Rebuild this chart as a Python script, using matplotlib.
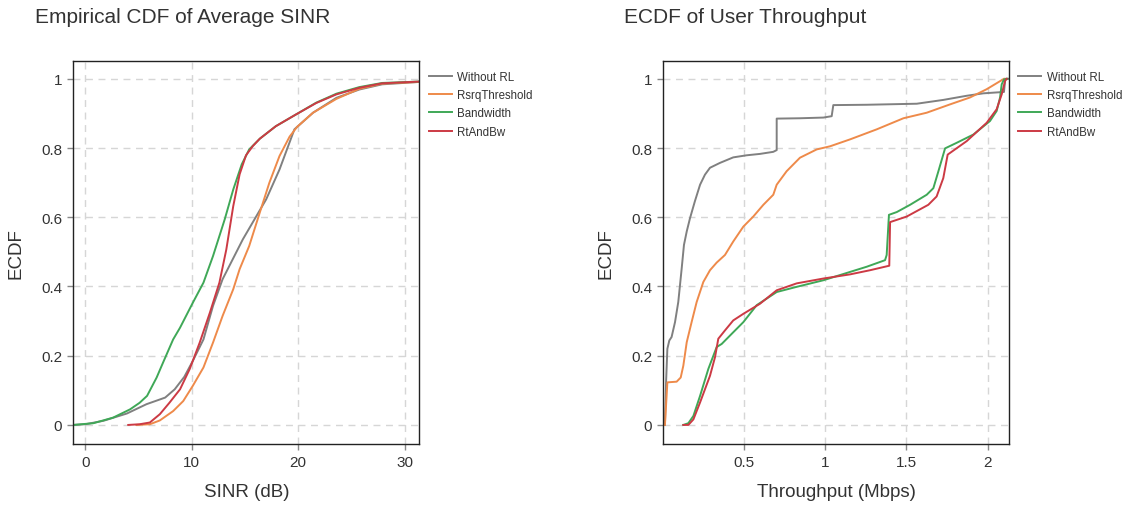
import matplotlib
matplotlib.use("Agg")
import matplotlib.pyplot as plt

plt.rcParams['font.family'] = ['Liberation Sans', 'DejaVu Sans']

series_names = ["Without RL", "RsrqThreshold", "Bandwidth", "RtAndBw"]
series_colors = ["#808080", "#ee8a4a", "#3fa857", "#cc3a44"]

# ---- Average SINR (dB) ECDF ----
sinr_without_x = [-1.13, 0.0, 1.7, 3.9, 5.75, 7.5, 8.4, 9.3, 10.1, 11.1, 12.0, 12.9, 14.8, 17.0, 18.25, 19.65, 21.4, 23.6, 25.75, 27.9, 31.4]
sinr_without_y = [0.0, 0.002, 0.012, 0.033, 0.06, 0.079, 0.103, 0.139, 0.185, 0.247, 0.344, 0.421, 0.536, 0.652, 0.738, 0.854, 0.902, 0.945, 0.969, 0.984, 0.991]

sinr_rsrq_x = [4.8, 6.06, 7.0, 8.25, 9.2, 10.1, 11.1, 12.0, 12.9, 13.9, 14.5, 15.4, 16.4, 17.3, 18.25, 19.2, 19.9, 21.4, 23.6, 25.75, 27.9, 31.4]
sinr_rsrq_y = [0.0, 0.002, 0.013, 0.04, 0.069, 0.113, 0.166, 0.238, 0.315, 0.392, 0.45, 0.517, 0.614, 0.7, 0.777, 0.833, 0.861, 0.902, 0.942, 0.971, 0.986, 0.991]

sinr_bw_x = [-1.13, 0.75, 2.6, 4.2, 5.1, 5.8, 6.7, 7.3, 8.25, 8.9, 10.1, 11.1, 12.0, 13.1, 13.9, 14.7, 15.4, 16.4, 17.9, 19.8, 21.7, 23.6, 25.75, 27.9, 31.4]
sinr_bw_y = [0.0, 0.005, 0.021, 0.045, 0.064, 0.084, 0.137, 0.18, 0.247, 0.281, 0.353, 0.411, 0.488, 0.594, 0.68, 0.753, 0.796, 0.827, 0.863, 0.897, 0.931, 0.957, 0.976, 0.988, 0.992]

sinr_rtbw_x = [4.03, 5.1, 6.06, 7.0, 7.9, 8.9, 9.8, 10.75, 11.7, 12.6, 13.25, 13.9, 14.5, 15.1, 15.75, 16.4, 17.9, 19.8, 21.7, 23.6, 25.75, 27.9, 31.4]
sinr_rtbw_y = [0.0, 0.002, 0.007, 0.031, 0.064, 0.103, 0.161, 0.238, 0.324, 0.411, 0.507, 0.632, 0.724, 0.779, 0.806, 0.827, 0.863, 0.897, 0.93, 0.955, 0.974, 0.987, 0.992]

# ---- User throughput (Mbps) ECDF ----
tput_without_x = [0.016, 0.023, 0.031, 0.043, 0.057, 0.078, 0.098, 0.119, 0.133, 0.15, 0.17, 0.2, 0.232, 0.262, 0.293, 0.354, 0.436, 0.518, 0.6, 0.682, 0.703, 0.703, 0.846, 0.99, 1.041, 1.051, 1.256, 1.564, 1.727, 1.871, 1.973, 2.1, 2.108, 2.13]
tput_without_y = [0.0, 0.123, 0.22, 0.244, 0.254, 0.297, 0.355, 0.452, 0.52, 0.559, 0.597, 0.646, 0.694, 0.723, 0.743, 0.757, 0.773, 0.779, 0.783, 0.789, 0.794, 0.885, 0.886, 0.888, 0.892, 0.924, 0.925, 0.928, 0.939, 0.951, 0.958, 0.962, 1.0, 1.0]

tput_rsrq_x = [0.016, 0.031, 0.088, 0.113, 0.129, 0.15, 0.18, 0.211, 0.252, 0.293, 0.334, 0.385, 0.436, 0.498, 0.559, 0.621, 0.682, 0.703, 0.764, 0.846, 0.949, 1.031, 1.154, 1.318, 1.482, 1.625, 1.768, 1.891, 1.994, 2.1]
tput_rsrq_y = [0.0, 0.123, 0.125, 0.137, 0.171, 0.239, 0.297, 0.355, 0.413, 0.447, 0.469, 0.491, 0.53, 0.573, 0.602, 0.636, 0.665, 0.694, 0.733, 0.772, 0.796, 0.805, 0.825, 0.854, 0.886, 0.902, 0.926, 0.946, 0.97, 1.0]

tput_bw_x = [0.129, 0.16, 0.191, 0.232, 0.283, 0.334, 0.365, 0.426, 0.498, 0.58, 0.703, 0.826, 0.99, 1.092, 1.256, 1.369, 1.379, 1.393, 1.441, 1.523, 1.625, 1.666, 1.697, 1.738, 1.809, 1.912, 2.014, 2.055, 2.076, 2.086, 2.1, 2.121]
tput_bw_y = [0.0, 0.005, 0.026, 0.084, 0.162, 0.225, 0.234, 0.263, 0.297, 0.346, 0.384, 0.399, 0.418, 0.433, 0.457, 0.476, 0.491, 0.607, 0.615, 0.636, 0.665, 0.684, 0.733, 0.799, 0.815, 0.839, 0.878, 0.907, 0.946, 0.984, 0.998, 1.0]

tput_rtbw_x = [0.129, 0.16, 0.191, 0.232, 0.293, 0.324, 0.344, 0.385, 0.436, 0.498, 0.6, 0.703, 0.826, 0.99, 1.154, 1.277, 1.395, 1.4, 1.502, 1.635, 1.686, 1.727, 1.754, 1.871, 1.994, 2.055, 2.086, 2.107, 2.117]
tput_rtbw_y = [0.0, 0.0, 0.016, 0.065, 0.142, 0.196, 0.249, 0.273, 0.302, 0.321, 0.35, 0.389, 0.409, 0.423, 0.435, 0.447, 0.46, 0.586, 0.602, 0.636, 0.66, 0.713, 0.781, 0.82, 0.873, 0.912, 0.955, 0.994, 1.0]

y_ticks = [0, 0.2, 0.4, 0.6, 0.8, 1]
y_ticklabels = ["0", "0.2", "0.4", "0.6", "0.8", "1"]
sinr_ticks = [0, 10, 20, 30]
tput_ticks = [0.5, 1, 1.5, 2]
tput_ticklabels = ["0.5", "1", "1.5", "2"]

fig = plt.figure(figsize=(11.25, 5.06), dpi=100)
ax1 = fig.add_axes([0.0652, 0.1206, 0.3076, 0.7559])
ax2 = fig.add_axes([0.5896, 0.1206, 0.3073, 0.7559])


def style_axes(ax):
    ax.grid(True, linestyle=(0, (5, 4)), color="#d6d6d6", linewidth=1.0)
    ax.set_axisbelow(True)
    for sp in ax.spines.values():
        sp.set_color("#222222")
        sp.set_linewidth(1.0)
    ax.tick_params(direction="out", length=4, width=1, color="#888888",
                   labelsize=11, labelcolor="#333333", pad=4)
    ax.set_ylim(-0.055, 1.05)
    ax.set_yticks(y_ticks)
    ax.set_yticklabels(y_ticklabels)
    ax.set_ylabel("ECDF", fontsize=13.5, color="#333333", labelpad=12)


sinr_data = [(sinr_without_x, sinr_without_y), (sinr_rsrq_x, sinr_rsrq_y),
             (sinr_bw_x, sinr_bw_y), (sinr_rtbw_x, sinr_rtbw_y)]
tput_data = [(tput_without_x, tput_without_y), (tput_rsrq_x, tput_rsrq_y),
             (tput_bw_x, tput_bw_y), (tput_rtbw_x, tput_rtbw_y)]

for ax, data in ((ax1, sinr_data), (ax2, tput_data)):
    style_axes(ax)
    for (xs, ys), name, col in zip(data, series_names, series_colors):
        ax.plot(xs, ys, color=col, linewidth=1.4, label=name)
    leg = ax.legend(loc="upper left", bbox_to_anchor=(1.0, 1.0), frameon=False,
                    fontsize=8.3, handlelength=2.0, handletextpad=0.5,
                    labelspacing=0.55, borderaxespad=0.5, borderpad=0.3)
    for t in leg.get_texts():
        t.set_color("#333333")

ax1.set_xlim(-1.13, 31.4)
ax1.set_xticks(sinr_ticks)
ax1.set_xlabel("SINR (dB)", fontsize=13.5, color="#333333", labelpad=10)

ax2.set_xlim(0.006, 2.131)
ax2.set_xticks(tput_ticks)
ax2.set_xticklabels(tput_ticklabels)
ax2.set_xlabel("Throughput (Mbps)", fontsize=13.5, color="#333333", labelpad=10)

fig.text(0.031, 0.985, "Empirical CDF of Average SINR", fontsize=15,
         color="#333333", va="top", ha="left")
fig.text(0.555, 0.985, "ECDF of User Throughput", fontsize=15,
         color="#333333", va="top", ha="left")

fig.savefig("out.png", dpi=100)
